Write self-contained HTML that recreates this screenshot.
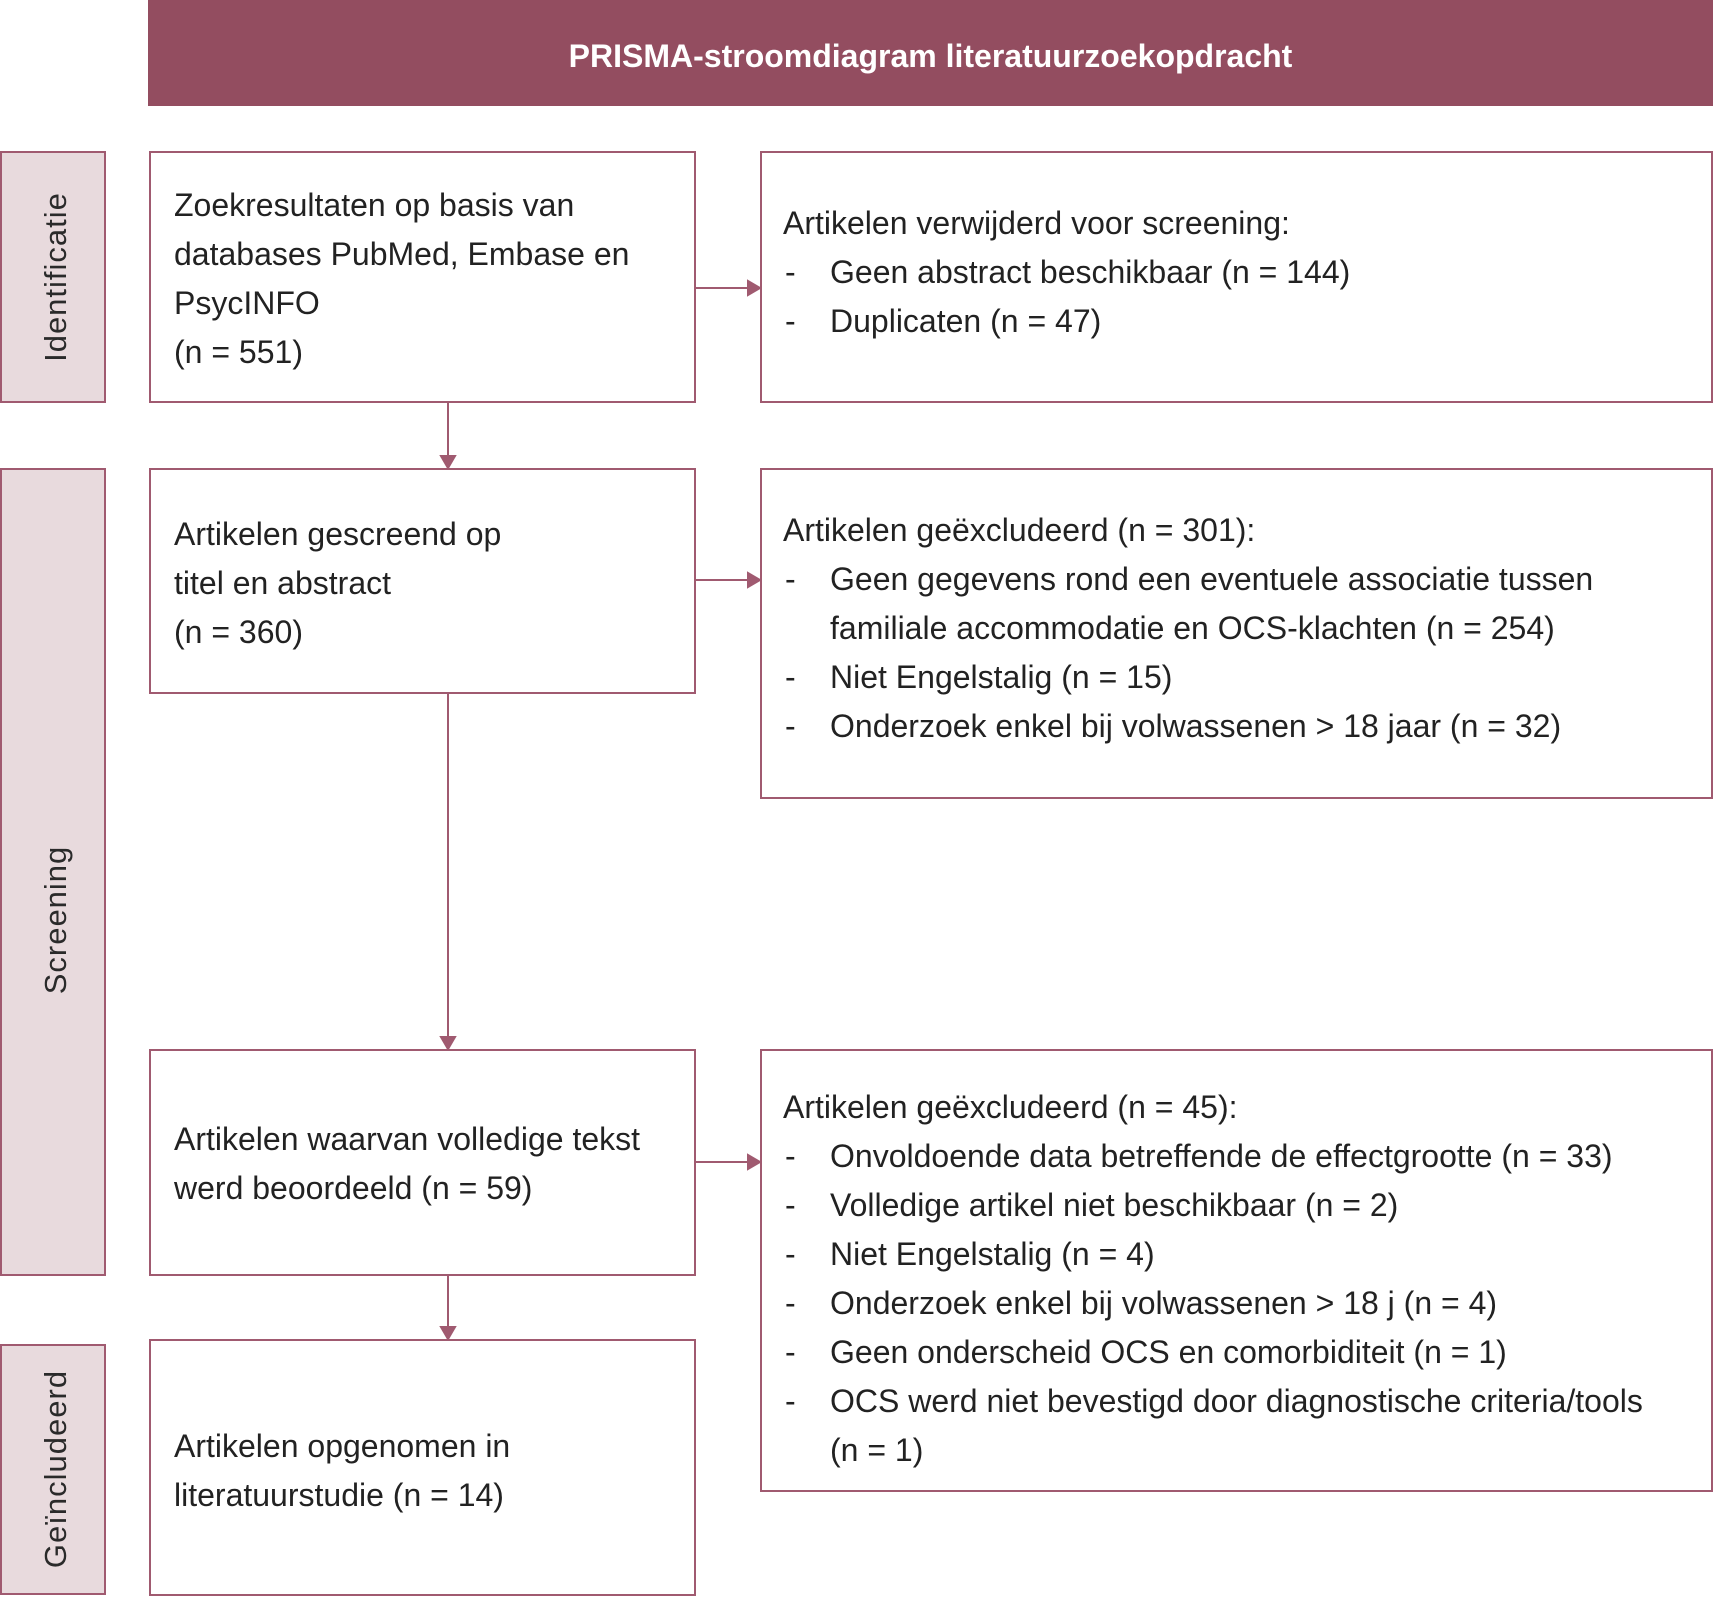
<!DOCTYPE html>
<html><head><meta charset="utf-8"><style>
body{margin:0;width:1713px;height:1597px;position:relative;background:#fff;font-family:"Liberation Sans",sans-serif;color:#222;overflow:hidden}
.a{position:absolute;box-sizing:border-box}
.box{border:2px solid #a05a70;background:#fff}
.side{border:2px solid #a05a70;background:#e8dadd}
.t{position:absolute;font-size:32px;line-height:49px;white-space:nowrap;letter-spacing:0}
.d{position:absolute;font-size:32px;line-height:49px}
.rot{position:absolute;font-size:31px;color:#2a2a2a;white-space:nowrap;transform:translate(-50%,-50%) rotate(-90deg);letter-spacing:1px}
</style></head><body>
<div class="a" style="left:148px;top:0;width:1565px;height:106px;background:#934d60"></div>
<div class="t" style="left:148px;width:1565px;top:32px;text-align:center;color:#fff;font-weight:bold;font-size:32px;">PRISMA-stroomdiagram literatuurzoekopdracht</div>

<div class="a side" style="left:0;top:151px;width:106px;height:252px"></div>
<div class="rot" style="left:56px;top:277px">Identificatie</div>
<div class="a side" style="left:0;top:468px;width:106px;height:808px"></div>
<div class="rot" style="left:56px;top:920px">Screening</div>
<div class="a side" style="left:0;top:1344px;width:106px;height:251px"></div>
<div class="rot" style="left:56px;top:1469px">Geïncludeerd</div>

<div class="a box" style="left:149px;top:151px;width:547px;height:252px"></div>
<div class="a box" style="left:149px;top:468px;width:547px;height:226px"></div>
<div class="a box" style="left:149px;top:1049px;width:547px;height:227px"></div>
<div class="a box" style="left:149px;top:1339px;width:547px;height:257px"></div>
<div class="a box" style="left:760px;top:151px;width:953px;height:252px"></div>
<div class="a box" style="left:760px;top:468px;width:953px;height:331px"></div>
<div class="a box" style="left:760px;top:1049px;width:953px;height:443px"></div>

<svg class="a" style="left:0;top:0" width="1713" height="1597">
<g stroke="#a05a70" stroke-width="2" fill="#a05a70">
<line x1="448" y1="403" x2="448" y2="458"/><polygon points="441,456 455,456 448,468"/>
<line x1="448" y1="694" x2="448" y2="1039"/><polygon points="441,1037 455,1037 448,1049"/>
<line x1="448" y1="1276" x2="448" y2="1329"/><polygon points="441,1327 455,1327 448,1339"/>
<line x1="696" y1="288" x2="750" y2="288"/><polygon points="748,281 748,295 760,288"/>
<line x1="696" y1="580" x2="750" y2="580"/><polygon points="748,573 748,587 760,580"/>
<line x1="696" y1="1162" x2="750" y2="1162"/><polygon points="748,1155 748,1169 760,1162"/>
</g></svg>

<div class="t" style="left:174px;top:181px">Zoekresultaten op basis van<br>databases PubMed, Embase en<br>PsycINFO<br>(n = 551)</div>
<div class="t" style="left:174px;top:510px">Artikelen gescreend op<br>titel en abstract<br>(n = 360)</div>
<div class="t" style="left:174px;top:1115px">Artikelen waarvan volledige tekst<br>werd beoordeeld (n = 59)</div>
<div class="t" style="left:174px;top:1422px">Artikelen opgenomen in<br>literatuurstudie (n = 14)</div>

<div class="t" style="left:783px;top:199px">Artikelen verwijderd voor screening:</div>
<div class="d" style="left:785px;top:248px">-<br>-</div>
<div class="t" style="left:830px;top:248px">Geen abstract beschikbaar (n = 144)<br>Duplicaten (n = 47)</div>

<div class="t" style="left:783px;top:506px">Artikelen geëxcludeerd (n = 301):</div>
<div class="d" style="left:785px;top:555px">-<br><br>-<br>-</div>
<div class="t" style="left:830px;top:555px">Geen gegevens rond een eventuele associatie tussen<br>familiale accommodatie en OCS-klachten (n = 254)<br>Niet Engelstalig (n = 15)<br>Onderzoek enkel bij volwassenen &gt; 18 jaar (n = 32)</div>

<div class="t" style="left:783px;top:1083px">Artikelen geëxcludeerd (n = 45):</div>
<div class="d" style="left:785px;top:1132px">-<br>-<br>-<br>-<br>-<br>-</div>
<div class="t" style="left:830px;top:1132px">Onvoldoende data betreffende de effectgrootte (n = 33)<br>Volledige artikel niet beschikbaar (n = 2)<br>Niet Engelstalig (n = 4)<br>Onderzoek enkel bij volwassenen &gt; 18 j (n = 4)<br>Geen onderscheid OCS en comorbiditeit (n = 1)<br>OCS werd niet bevestigd door diagnostische criteria/tools<br>(n = 1)</div>
</body></html>
